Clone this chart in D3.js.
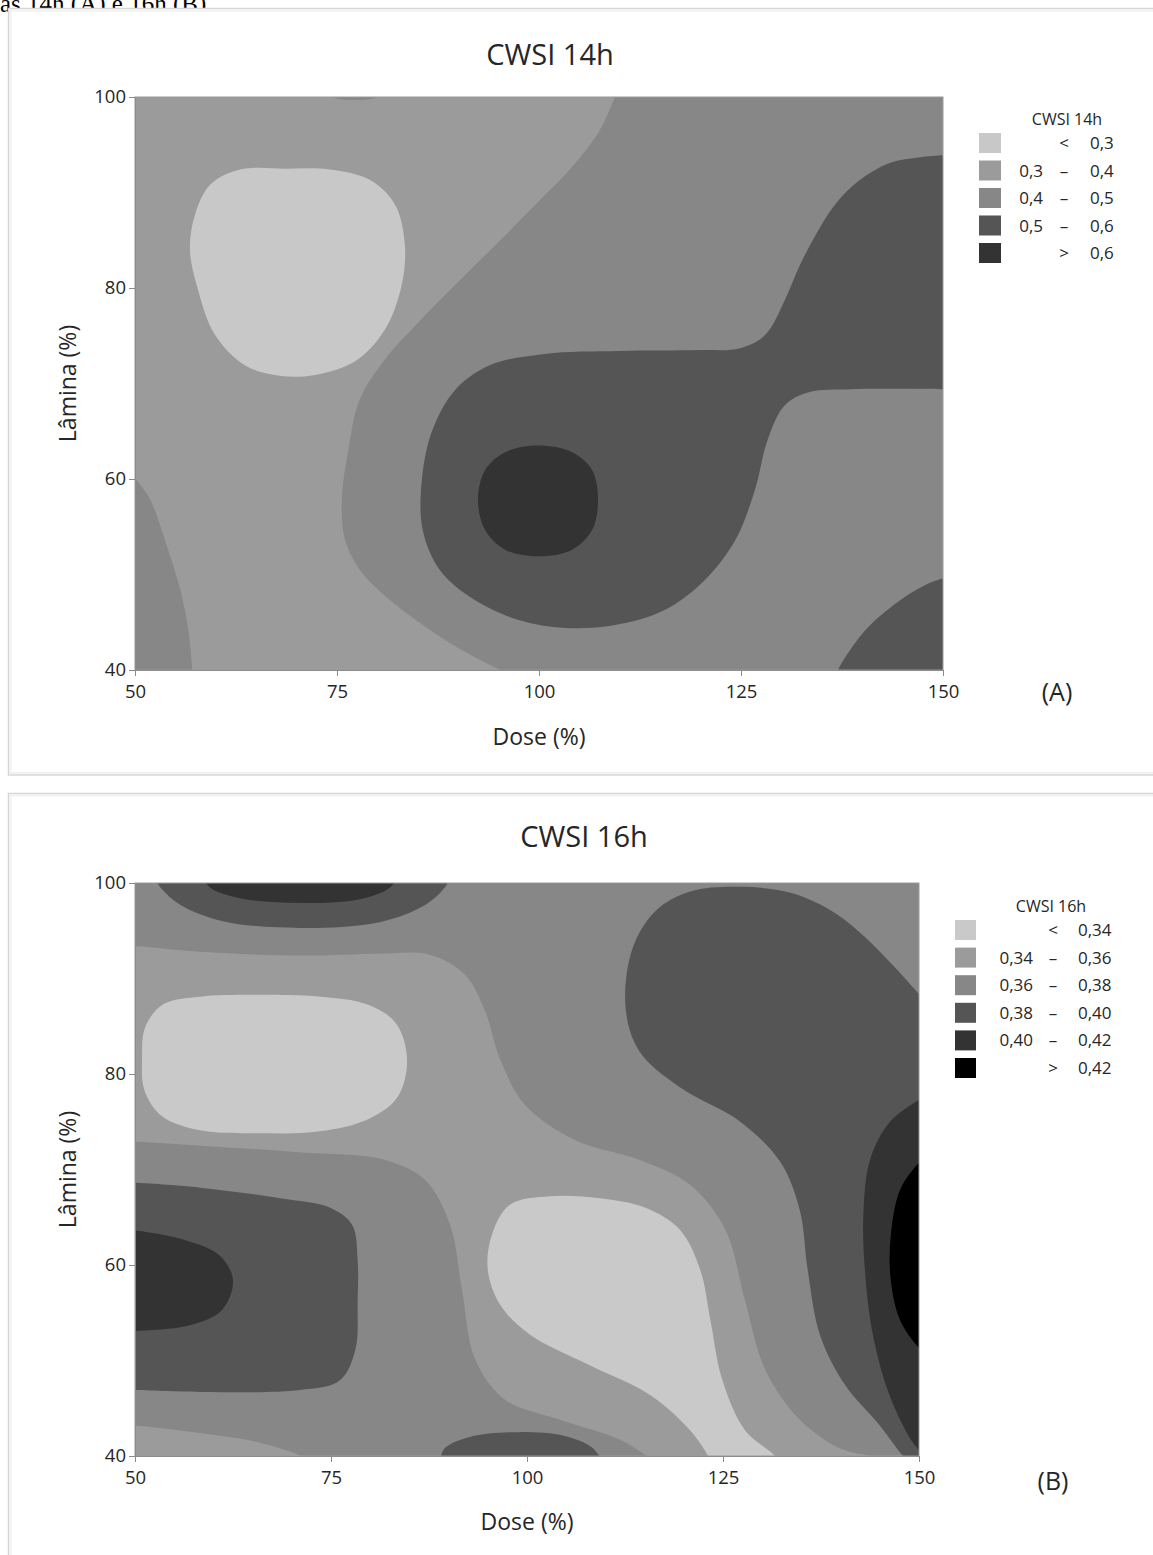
<!DOCTYPE html>
<html>
<head>
<meta charset="utf-8">
<script src="https://cdn.jsdelivr.net/npm/d3@7"></script>
<style>
body { margin: 0; background: #fff; }
svg text { font-family: "Open Sans", sans-serif; fill: #262626; }
</style>
</head>
<body>
<svg id="chart" width="1153" height="1555"></svg>
<script>
//===============================================
//------------------- DATA ----------------------
//===============================================
var doseTicks = [50, 75, 100, 125, 150];
var laminaTicks = [40, 60, 80, 100];

// band colours, lightest to darkest
var colors14 = ['#c8c8c8', '#9b9b9b', '#878787', '#555555', '#333333'];
var colors16 = ['#c9c9c9', '#9b9b9b', '#878787', '#555555', '#333333', '#000000'];

var legend14 = [['', '<', '0,3'], ['0,3', '–', '0,4'], ['0,4', '–', '0,5'], ['0,5', '–', '0,6'], ['', '>', '0,6']];
var legend16 = [['', '<', '0,34'], ['0,34', '–', '0,36'], ['0,36', '–', '0,38'], ['0,38', '–', '0,40'], ['0,40', '–', '0,42'], ['', '>', '0,42']];

// isolines, [dose %, lamina %]
// CWSI 14h
var a14_04_main = [
	[[110.0,101.1],[109.4,100],[107.5,96.5],[103.8,92.4],[100.1,89.2],[95.2,85.0],[90.2,80.8],[85.3,76.6],[80.9,72.5],[77.8,68.3],[76.4,63.0],[75.6,57.8],[76.0,53.6],[77.8,50.5],[81.6,47.3],[86.5,44.2],[91.5,41.6],[95.2,40],[97.5,39]],
	[[152,39],[152,101.1]]
];
var a14_04_left = [
	[[49.2,61.0],[50,60.1],[51.9,57.8],[53.7,53.6],[55.6,48.4],[56.6,44.2],[57.1,40],[57.2,39]],
	[[49,39]]
];
var a14_04_top = [[[72.4,100.6],[75,99.85],[77,99.7],[79.5,99.85],[81.6,100.6]]];
var a14_05_main = [[
	[151,93.9],[150,93.9],[147.2,93.7],[143.4,93.1],[139.7,91.3],[136.6,88.7],[134.2,85.5],[132.3,82.4],[130.4,78.7],[128.0,75.1],[124.9,73.7],[119.9,73.5],[110.0,73.4],[100.7,73.1],[93.9,71.9],[89.6,69.3],[86.8,65.1],[85.5,59.9],[85.6,54.7],[87.7,50.5],[92.1,47.3],[97.6,45.2],[103.2,44.4],[109.4,44.7],[115.6,46.3],[120.5,49.4],[124.3,53.6],[126.7,58.8],[128.3,64.1],[130.4,67.7],[133.5,69.1],[138.5,69.4],[150,69.4],[151,69.4]
]];
var a14_05_corner = [
	[[136.6,39],[137.0,40],[138.5,42.1],[141.0,44.7],[144.7,47.3],[147.8,48.9],[150,49.6],[151,49.9]],
	[[151,39]]
];
var a14_06_blob = [[92.45,57.8],[93.3,60.9],[95.8,62.8],[99.9,63.5],[104.1,62.8],[106.6,60.9],[107.3,57.8],[106.6,54.7],[104.1,52.6],[99.9,51.9],[95.8,52.6],[93.3,54.7]];
var a14_03_blob = [[57.4,87.6],[59.3,90.8],[63.0,92.4],[68.6,92.5],[74.1,92.4],[79.1,91.3],[82.2,88.7],[83.4,84.5],[83.0,80.3],[80.9,75.6],[77.2,72.3],[72.3,70.9],[67.9,70.8],[63.6,71.9],[59.9,75.1],[57.8,79.8],[56.8,84.0]];

// CWSI 16h
var b16_036_halo = [
	[[49.1,93.4],[50,93.4],[58.3,92.8],[71.0,92.4],[81.2,92.6],[87.6,92.5],[92.1,90.4],[94.6,86.7],[96.6,81.5],[99.7,76.8],[106.1,73.1],[114.4,71.0],[120.8,68.4],[125.3,63.7],[127.8,56.3],[130.4,49.0],[134.8,43.8],[139.9,40.8],[143.6,40],[146,39.4]],
	[[117,39.2],[115.3,40],[111.9,41.7],[104.2,43.8],[97.2,45.9],[93.4,50.1],[91.7,57.4],[90.2,64.2],[87.0,68.9],[81.9,71.0],[71.0,71.8],[58.3,72.5],[50,72.9],[49.1,72.9]]
];
var b16_036_corner = [
	[[49.1,43.2],[50,43.2],[58.3,42.4],[65.9,41.4],[71.2,40],[72.0,39.4]],
	[[49.1,39.4]]
];
var b16_034_blob1 = [[51.3,84.9],[53.6,87.3],[58.3,88.1],[65.9,88.3],[73.6,88.1],[79.6,87.3],[83.3,85.3],[84.7,81.5],[83.5,77.6],[79.8,75.3],[73.6,74.0],[65.9,73.8],[58.3,74.1],[53.4,75.6],[51.2,78.3],[50.9,81.5]];
var b16_034_blob2 = [
	[[131.8,39.4],[131.6,40],[127.8,42.7],[124.9,48.0],[123.4,54.2],[122.1,59.5],[119.5,63.7],[115.1,66.0],[109.3,67.0],[102.9,67.2],[97.8,66.3],[95.5,63.1],[95.0,59.5],[96.6,55.8],[100.4,52.7],[108.0,49.5],[115.7,46.4],[120.8,42.7],[123.1,40],[123.4,39.4]]
];
var b16_038_top = [[[52.6,100.3],[53.5,99.3],[55.8,97.7],[61.2,96.0],[71.0,95.3],[81.2,95.9],[87.0,97.7],[89.5,99.5],[90.2,100.5]]];
var b16_038_left = [[[49.1,68.6],[50,68.6],[58.3,68.1],[68.5,67.0],[74.9,66.0],[77.7,64.2],[78.4,60.5],[78.4,56.3],[78.1,51.1],[76.1,47.9],[71.0,46.9],[58.3,46.7],[50,46.9],[49.1,46.9]]];
var b16_038_bottom = [[[88.9,39.5],[89.5,40.8],[92.7,42.0],[99.1,42.5],[104.8,42.1],[108.3,40.9],[109.6,39.5]]];
var b16_038_right = [
	[[149.0,39.4],[148.0,40],[145.0,43.2],[140.6,47.4],[137.4,52.6],[135.8,59.5],[134.8,65.7],[132.3,70.8],[127.2,75.0],[119.5,78.6],[114.4,82.3],[112.6,86.7],[113.4,93.0],[116.3,97.0],[120.8,99.1],[127.2,99.6],[133.5,99.0],[138.6,97.2],[142.5,94.8],[147.0,91.1],[150,88.4],[150.8,87.8]],
	[[150.8,39.4]]
];
var b16_040_top = [[[58.7,100.5],[59.6,99.5],[63.4,98.4],[71.0,97.9],[78.7,98.3],[82.5,99.5],[83.4,100.5]]];
var b16_040_left = [[[49.1,63.6],[50,63.6],[56.4,62.6],[60.8,61.0],[62.5,58.4],[61.1,55.3],[57.0,53.7],[50,53.1],[49.1,53.1]]];
var b16_040_right = [[[150.8,77.7],[150,77.3],[146.3,75.0],[143.75,71.0],[142.9,65.2],[143.1,59.5],[144.0,53.2],[146.0,46.9],[148.6,42.2],[150,40.6],[150.8,40]]];
var b16_042_right = [[[150.8,71.2],[150,70.7],[147.6,67.9],[146.4,63.1],[146.4,58.4],[147.6,54.2],[150,51.3],[150.8,50.7]]];

//===============================================
//------------------ LAYOUT ---------------------
//===============================================
var panels = [
	{
		name: 'A', title: 'CWSI 14h', colors: colors14, legend: legend14, base: 1,
		frame: [8.5, 8.5, 1160, 775],
		xr: [135, 943], yr: [670, 97],
		titleX: 550, titleY: 65, xlabY: 745,
		tagX: 1057, tagY: 701,
		leg: { titleX: 1067, titleY: 125, sx: 979, sw: 22, sh: 20, top: 133, step: 27.5, left: 1043, mid: 1064, right: 1090 },
		regions: [
			{ band: 2, parts: a14_04_main },
			{ band: 2, parts: a14_04_left },
			{ band: 2, parts: a14_04_top },
			{ band: 3, parts: a14_05_main },
			{ band: 3, parts: a14_05_corner },
			{ band: 4, blob: a14_06_blob },
			{ band: 0, blob: a14_03_blob }
		]
	},
	{
		name: 'B', title: 'CWSI 16h', colors: colors16, legend: legend16, base: 2,
		frame: [8.5, 793.5, 1160, 1575],
		xr: [135, 919], yr: [1456, 883],
		titleX: 584, titleY: 847, xlabY: 1530,
		tagX: 1053, tagY: 1490,
		leg: { titleX: 1051, titleY: 912, sx: 955, sw: 21, sh: 20, top: 920, step: 27.6, left: 1033, mid: 1053, right: 1078 },
		regions: [
			{ band: 1, parts: b16_036_halo },
			{ band: 1, parts: b16_036_corner },
			{ band: 0, blob: b16_034_blob1 },
			{ band: 0, parts: b16_034_blob2 },
			{ band: 3, parts: b16_038_top },
			{ band: 3, parts: b16_038_left },
			{ band: 3, parts: b16_038_bottom },
			{ band: 3, parts: b16_038_right },
			{ band: 4, parts: b16_040_top },
			{ band: 4, parts: b16_040_left },
			{ band: 4, parts: b16_040_right },
			{ band: 5, parts: b16_042_right }
		]
	}
];

var svg = d3.select('#chart');
var lineOpen = d3.line().curve(d3.curveCatmullRom.alpha(0.5));
var lineClosed = d3.line().curve(d3.curveCatmullRomClosed.alpha(0.5));

// caption line of the page, cut by the top edge as in the scan
svg.append('text')
	.attr('x', 0).attr('y', 12)
	.style('font-family', '"Liberation Serif", serif')
	.style('font-size', '25px')
	.style('fill', '#000')
	.text('às 14h (A) e 16h (B).');

function regionPath(parts, x, y) {
	var d = '';
	parts.forEach(function (pts, i) {
		var px = pts.map(function (p) { return [x(p[0]), y(p[1])]; });
		var s;
		if (px.length > 2) s = lineOpen(px);
		else s = px.map(function (p, j) { return (j ? 'L' : 'M') + p[0] + ',' + p[1]; }).join('');
		d += i ? 'L' + s.slice(1) : s;
	});
	return d + 'Z';
}

panels.forEach(function (P, pi) {

	var g = svg.append('g');

	// panel frame
	g.append('rect')
		.attr('x', P.frame[0]).attr('y', P.frame[1])
		.attr('width', P.frame[2] - P.frame[0]).attr('height', P.frame[3] - P.frame[1])
		.attr('fill', '#fff')
		.attr('stroke', '#d6d6d6')
		.attr('stroke-width', 1.5);
	g.append('rect')
		.attr('x', P.frame[0] + 2).attr('y', P.frame[1] + 2)
		.attr('width', P.frame[2] - P.frame[0] - 4).attr('height', P.frame[3] - P.frame[1] - 4)
		.attr('fill', 'none')
		.attr('stroke', '#f1f1f1')
		.attr('stroke-width', 2);

	var x = d3.scaleLinear().domain([50, 150]).range(P.xr);
	var y = d3.scaleLinear().domain([40, 100]).range(P.yr);

	var clipId = 'clip' + pi;
	svg.append('clipPath').attr('id', clipId)
		.append('rect')
		.attr('x', P.xr[0]).attr('y', P.yr[1])
		.attr('width', P.xr[1] - P.xr[0]).attr('height', P.yr[0] - P.yr[1]);

	var plot = g.append('g').attr('clip-path', 'url(#' + clipId + ')');

	plot.append('rect')
		.attr('x', P.xr[0]).attr('y', P.yr[1])
		.attr('width', P.xr[1] - P.xr[0]).attr('height', P.yr[0] - P.yr[1])
		.attr('fill', P.colors[P.base]);

	plot.selectAll('path.band')
		.data(P.regions)
		.enter().append('path')
		.attr('class', 'band')
		.attr('d', function (r) {
			if (r.blob) return lineClosed(r.blob.map(function (p) { return [x(p[0]), y(p[1])]; }));
			return regionPath(r.parts, x, y);
		})
		.attr('fill', function (r) { return P.colors[r.band]; });

	// plot outline
	g.append('rect')
		.attr('x', P.xr[0]).attr('y', P.yr[1])
		.attr('width', P.xr[1] - P.xr[0]).attr('height', P.yr[0] - P.yr[1])
		.attr('fill', 'none')
		.attr('stroke', '#9a9a9a')
		.attr('stroke-width', 1);

	// axes
	var xAxis = g.append('g')
		.attr('transform', 'translate(0,' + P.yr[0] + ')')
		.call(d3.axisBottom(x).tickValues(doseTicks).tickSize(6).tickPadding(9));
	var yAxis = g.append('g')
		.attr('transform', 'translate(' + P.xr[0] + ',0)')
		.call(d3.axisLeft(y).tickValues(laminaTicks).tickSize(6).tickPadding(3));

	[xAxis, yAxis].forEach(function (a) {
		a.select('.domain').attr('stroke', '#8c8c8c');
		a.selectAll('.tick line').attr('stroke', '#8c8c8c');
		a.selectAll('.tick text')
			.style('font-family', '"Open Sans", sans-serif')
			.style('font-size', '18.5px')
			.attr('fill', '#262626');
	});

	// titles
	var midX = (P.xr[0] + P.xr[1]) / 2;
	g.append('text')
		.attr('x', P.titleX).attr('y', P.titleY)
		.attr('text-anchor', 'middle')
		.style('font-size', '29px')
		.text(P.title);

	g.append('text')
		.attr('x', midX).attr('y', P.xlabY)
		.attr('text-anchor', 'middle')
		.style('font-size', '23px')
		.text('Dose (%)');

	g.append('text')
		.attr('transform', 'translate(76,' + ((P.yr[0] + P.yr[1]) / 2) + ') rotate(-90)')
		.attr('text-anchor', 'middle')
		.style('font-size', '23px')
		.text('Lâmina (%)');

	g.append('text')
		.attr('x', P.tagX).attr('y', P.tagY)
		.attr('text-anchor', 'middle')
		.style('font-size', '25px')
		.text('(' + P.name + ')');

	// legend
	var L = P.leg;
	var leg = g.append('g');
	leg.append('text')
		.attr('x', L.titleX).attr('y', L.titleY)
		.attr('text-anchor', 'middle')
		.style('font-size', '16px')
		.text(P.title);

	var rows = leg.selectAll('g.row')
		.data(P.legend)
		.enter().append('g')
		.attr('class', 'row')
		.attr('transform', function (d, i) { return 'translate(0,' + (L.top + i * L.step) + ')'; });

	rows.append('rect')
		.attr('x', L.sx).attr('y', 0)
		.attr('width', L.sw).attr('height', L.sh)
		.attr('fill', function (d, i) { return P.colors[i]; });

	rows.append('text')
		.attr('x', L.left).attr('y', L.sh / 2 + 6)
		.attr('text-anchor', 'end')
		.style('font-size', '17px')
		.text(function (d) { return d[0]; });
	rows.append('text')
		.attr('x', L.mid).attr('y', L.sh / 2 + 6)
		.attr('text-anchor', 'middle')
		.style('font-size', '17px')
		.text(function (d) { return d[1]; });
	rows.append('text')
		.attr('x', L.right).attr('y', L.sh / 2 + 6)
		.attr('text-anchor', 'start')
		.style('font-size', '17px')
		.text(function (d) { return d[2]; });
});
</script>
</body>
</html>
